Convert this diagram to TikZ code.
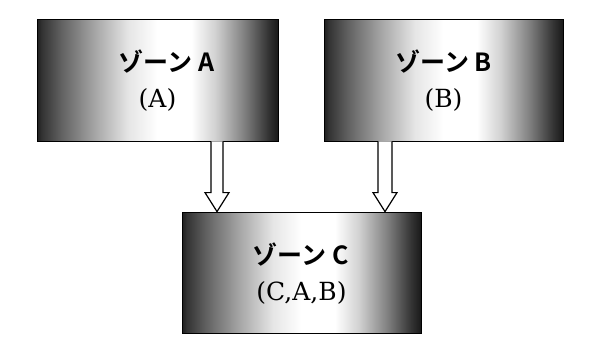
\documentclass[tikz,border=0pt]{standalone}
\usepackage{fontspec}
\setmainfont{DejaVu Serif}
\newfontfamily\jpfont{Noto Sans CJK JP}[BoldFont={Noto Sans CJK JP Bold}]
\usetikzlibrary{calc}
\pgfdeclarehorizontalshading{zoneshade}{100bp}{color(0bp)=(black!88); color(25bp)=(black!88); color(26bp)=(black!80); color(30bp)=(black!62); color(37bp)=(black!35); color(44bp)=(black!10); color(50bp)=(white); color(57bp)=(white); color(62bp)=(black!18); color(68bp)=(black!50); color(73bp)=(black!80); color(75bp)=(black!90); color(100bp)=(black!90)}
\begin{document}
\begin{tikzpicture}[x=1pt,y=1pt,
  zone/.style={draw=black, line width=0.8pt, shading=zoneshade, minimum width=241pt, minimum height=122pt, inner sep=0pt, align=center},
  jp/.style={font=\jpfont\bfseries\fontsize{25}{28}\selectfont},
  par/.style={font=\fontsize{25}{28}\selectfont},
  hollow/.style={draw=black, fill=white, line width=1.2pt, line join=miter}]
\fill[white] (0,0) rectangle (602,360);
\useasboundingbox (0,0) rectangle (602,360);
\node[zone] (A) at (157.5,280) {};
\node[zone, minimum width=239pt] (B) at (443.5,280) {};
\node[zone, minimum width=239pt, minimum height=121pt] (C) at (301.5,87.5) {};
% texts
\node[jp] (At) at ($(A.center)+(9,18)$) {ゾーン A};
\node[par] (Ap) at ($(A.center)+(0,-20)$) {(A)};
\node[jp] (Bt) at ($(B.center)+(0,18)$) {ゾーン B};
\node[par] (Bp) at ($(B.center)+(0,-20)$) {(B)};
\node[jp] (Ct) at ($(C.center)+(-1,18)$) {ゾーン C};
\node[par] (Cp) at ($(C.center)+(0,-20)$) {(C,A,B)};
% arrows
\path (A.south) ++(59.5,0) coordinate (a1);
\path (a1 |- C.north) coordinate (a2);
\path (B.south) ++(-58.5,0) coordinate (b1);
\path (b1 |- C.north) coordinate (b2);
\draw[hollow] ($(a1)+(-6,0)$) -- ($(a2)+(-6,19)$) -- ($(a2)+(-12,19)$) -- (a2) -- ($(a2)+(12,19)$) -- ($(a2)+(6,19)$) -- ($(a1)+(6,0)$);
\draw[hollow] ($(b1)+(-7,0)$) -- ($(b2)+(-7,19)$) -- ($(b2)+(-12,19)$) -- (b2) -- ($(b2)+(12,19)$) -- ($(b2)+(7,19)$) -- ($(b1)+(7,0)$);
\end{tikzpicture}
\end{document}
